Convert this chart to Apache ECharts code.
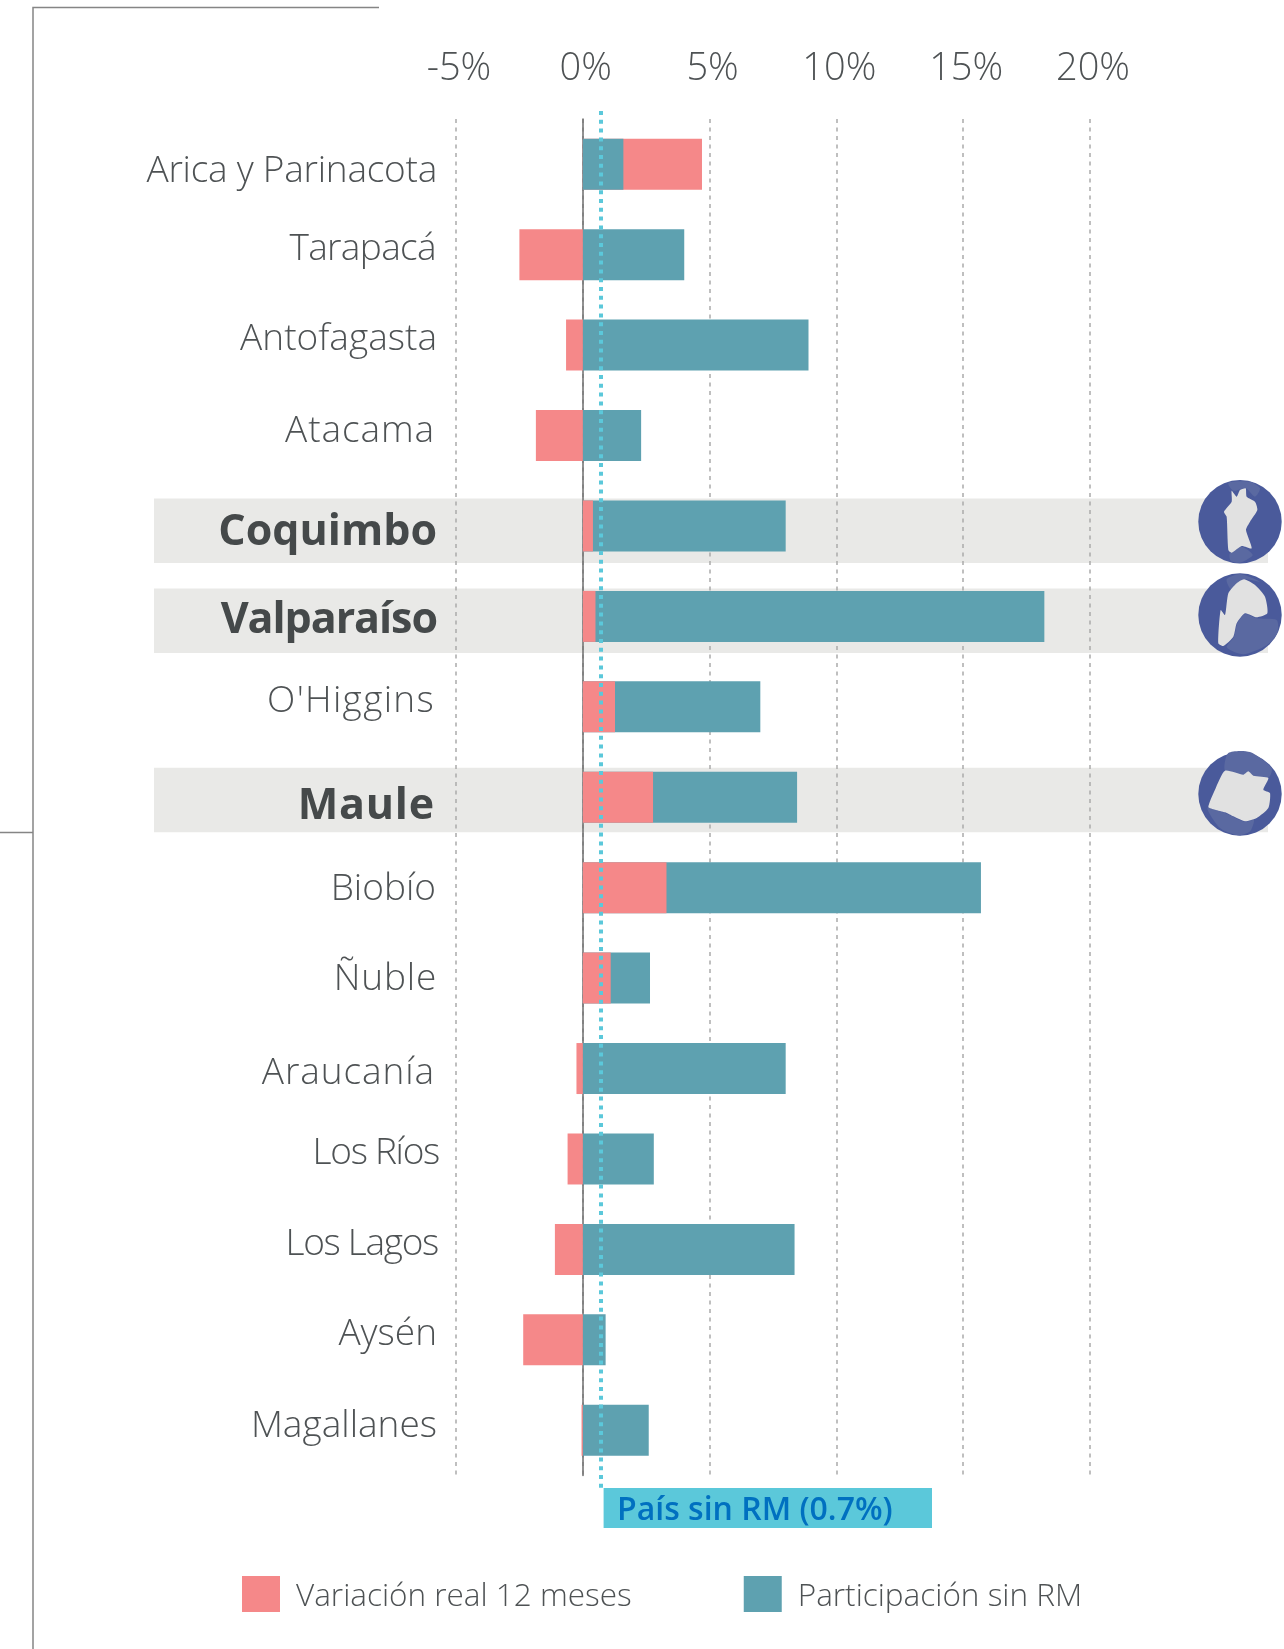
<!DOCTYPE html>
<html><head><meta charset="utf-8">
<style>html,body{margin:0;padding:0;background:#fff}#c{width:1284px;height:1649px}</style>
<script src="https://cdn.jsdelivr.net/npm/echarts@6/dist/echarts.min.js"></script>
</head><body><div id="c"></div>
<script>
const regiones = ['Arica y Parinacota','Tarapacá','Antofagasta','Atacama','Coquimbo','Valparaíso',"O'Higgins",'Maule','Biobío','Ñuble','Araucanía','Los Ríos','Los Lagos','Aysén','Magallanes'];
const variacion = [4.7,-2.5,-0.66,-1.85,0.4,0.5,1.27,2.77,3.3,1.1,-0.25,-0.6,-1.1,-2.35,-0.05];
const participacion = [1.6,4.0,8.9,2.3,8.0,18.2,7.0,8.45,15.7,2.65,8.0,2.8,8.35,0.9,2.6];
const destacadas = ['Coquimbo','Valparaíso','Maule'];
const paisSinRM = 0.7;
const ticksX = [-5,0,5,10,15,20];

// layout only: per-label nudges (px) and tracking of the category labels
const labelDy = [4,-8,-8,-7,3,1,-8,6,-1,-2,2,-8,-8,-8,-7];
const labelDx = [-1,0,-1,1,-1,-1,1,1,0,-1,1,-3,-2,-1,-1];
const labelTracking = [-0.25,-0.65,0,0.9,0,-1.05,1.3,0.8,0,0.8,0.9,-1.3,-1.3,0,0];
const bandDy = [0,-0.5,-2];

const tracking = {};
regiones.forEach((r,i)=>{ tracking[r] = labelTracking[i]; });
const rawFillText = CanvasRenderingContext2D.prototype.fillText;
CanvasRenderingContext2D.prototype.fillText = function(t,x,y,m){
  this.letterSpacing = (tracking[t]||0)+'px';
  return m===undefined ? rawFillText.call(this,t,x,y) : rawFillText.call(this,t,x,y,m);
};

const TXT = '#4E5254', PINK = '#F58889', TEAL = '#5EA1B0', CYAN = '#5BC8DA';
const NAME_V = 'Variación real 12 meses', NAME_P = 'Participación sin RM';
const LABEL_SIZE = 37, BOLD_SIZE = 43;

const yItems = regiones.map((r,i)=>{
  const bold = destacadas.includes(r), size = bold?BOLD_SIZE:LABEL_SIZE;
  const d = (labelDy[i]+3)*1.05;
  const ts = {verticalAlign:'top',padding:[d-size/2, labelDx[i]+4, 0, 0]};
  if (bold) { ts.fontWeight = 700; ts.fontSize = BOLD_SIZE; ts.color = '#45494A'; }
  return {value:r, textStyle:ts};
});

const BLUE='#4A5A9B', LIGHT='#5A69A1', LAND='#E1E1E1';
function icon(cx,cy,ox,oy,land,lights){
  const conv = a=>a.map(p=>[cx+(p[0]-ox)/3, cy+(p[1]-oy)/3]);
  const els = [{type:'circle',shape:{cx,cy,r:41.7},style:{fill:BLUE},z:5}];
  lights.forEach(l=>els.push({type:'polygon',shape:{points:conv(l),smooth:0.25},style:{fill:LIGHT},z:5}));
  els.push({type:'polygon',shape:{points:conv(land),smooth:0.2},style:{fill:LAND},z:5});
  return els;
}
const icons = [].concat(
  icon(1240,521.7,420,185,
    [[395,92],[410,110],[420,90],[437,85],[440,110],[465,125],[472,150],[450,185],[438,210],[455,265],[425,258],[395,278],[385,270],[380,170],[372,155],[395,125]],
    [[[385,68],[450,65],[480,85],[465,110],[437,85],[400,92]],[[390,278],[425,260],[458,285],[420,308],[392,302]]]),
  icon(1240,615,420,465,
    [[432,358],[465,375],[495,410],[502,460],[470,472],[435,460],[410,490],[400,530],[370,558],[355,550],[362,450],[375,465],[385,400],[410,370]],
    [[[435,462],[470,475],[530,480],[532,520],[500,556],[430,583],[380,562],[402,530],[412,490]],[[380,358],[420,342],[480,365],[430,358],[395,390]]]),
  icon(1240,794,420,1003,
    [[375,933],[430,945],[445,935],[460,948],[505,955],[490,990],[510,1000],[505,1045],[470,1075],[435,1085],[400,1070],[375,1058],[345,1050],[325,1042],[345,990]],
    [[[385,880],[450,877],[515,925],[505,955],[460,948],[445,935],[430,945],[375,933]],[[322,1045],[375,1060],[435,1087],[462,1080],[450,1115],[415,1127],[360,1105]]])
);

const chart = echarts.init(document.getElementById('c'));
chart.setOption({
  animation:false,
  backgroundColor:'#fff',
  textStyle:{fontFamily:'"Open Sans"'},
  grid:{left:456,right:194,top:119,bottom:173.5,containLabel:false},
  legend:{
    left:242,top:1576,padding:0,itemWidth:38,itemHeight:36,itemGap:112,selectedMode:false,icon:'rect',
    data:[NAME_V,NAME_P],
    formatter:'{a|{name}}',
    textStyle:{fontFamily:'"Open Sans"',fontWeight:300,fontSize:31.5,color:TXT,
      rich:{a:{fontFamily:'"Open Sans"',fontWeight:300,fontSize:31.5,color:TXT,padding:[6,0,0,11]}}}
  },
  xAxis:{type:'value',position:'top',min:ticksX[0],max:ticksX[ticksX.length-1],interval:5,
    axisLine:{show:false},axisTick:{show:false},
    axisLabel:{formatter:'{value}%',fontSize:38,fontWeight:300,color:TXT,margin:31,padding:[0,0,0,6],fontFamily:'"Open Sans"'},
    splitLine:{show:true,lineStyle:{color:'#ABABAB',width:1.5,type:[4,4.5]}}
  },
  yAxis:{type:'category',inverse:true,data:yItems,
    axisLine:{show:true,onZero:true,lineStyle:{color:'#6E6E6E',width:1.5}},axisTick:{show:false},
    axisLabel:{interval:0,fontSize:LABEL_SIZE,fontWeight:300,color:TXT,margin:16,fontFamily:'"Open Sans"'}
  },
  series:[
    {type:'custom',silent:true,z:-1,clip:false,encode:{x:0,y:1},
      data:destacadas.map(n=>[0,regiones.indexOf(n)]),
      renderItem:(p,api)=>{
        const y = api.coord([0,api.value(1)])[1];
        return {type:'rect',shape:{x:154,y:y-27.5+bandDy[p.dataIndex],width:1114,height:64.5},style:{fill:'#E9E9E7'}};
      }},
    {name:NAME_V,type:'bar',barWidth:51,barGap:'-100%',z:2,itemStyle:{color:PINK},
      data:variacion.map((v,i)=>v>participacion[i]?v:null)},
    {name:NAME_P,type:'bar',barWidth:51,barGap:'-100%',z:3,itemStyle:{color:TEAL},
      data:participacion,
      markLine:{silent:true,symbol:'none',z:6,animation:false,label:{show:false},
        lineStyle:{color:CYAN,width:4,type:[4,4.8]},
        data:[[{xAxis:paisSinRM,y:111},{xAxis:paisSinRM,y:1491}]]}},
    {name:NAME_V,type:'bar',barWidth:51,barGap:'-100%',z:4,itemStyle:{color:PINK},
      data:variacion.map((v,i)=>v>participacion[i]?null:v)}
  ],
  graphic:[
    {type:'polyline',shape:{points:[[33,1649],[33,7.5],[379,7.5]]},style:{stroke:'#858585',lineWidth:1.5,fill:'none'},z:1},
    {type:'line',shape:{x1:0,y1:832.5,x2:33,y2:832.5},style:{stroke:'#858585',lineWidth:1.5},z:1},
    {type:'rect',shape:{x:603.6,y:1488,width:328.4,height:40},style:{fill:CYAN},z:5},
    {type:'text',x:617,y:1511,z:6,style:{text:'País sin RM ('+paisSinRM+'%)',fill:'#0070C0',font:'600 32px "Open Sans"',textVerticalAlign:'middle'}}
  ].concat(icons)
});
</script></body></html>
